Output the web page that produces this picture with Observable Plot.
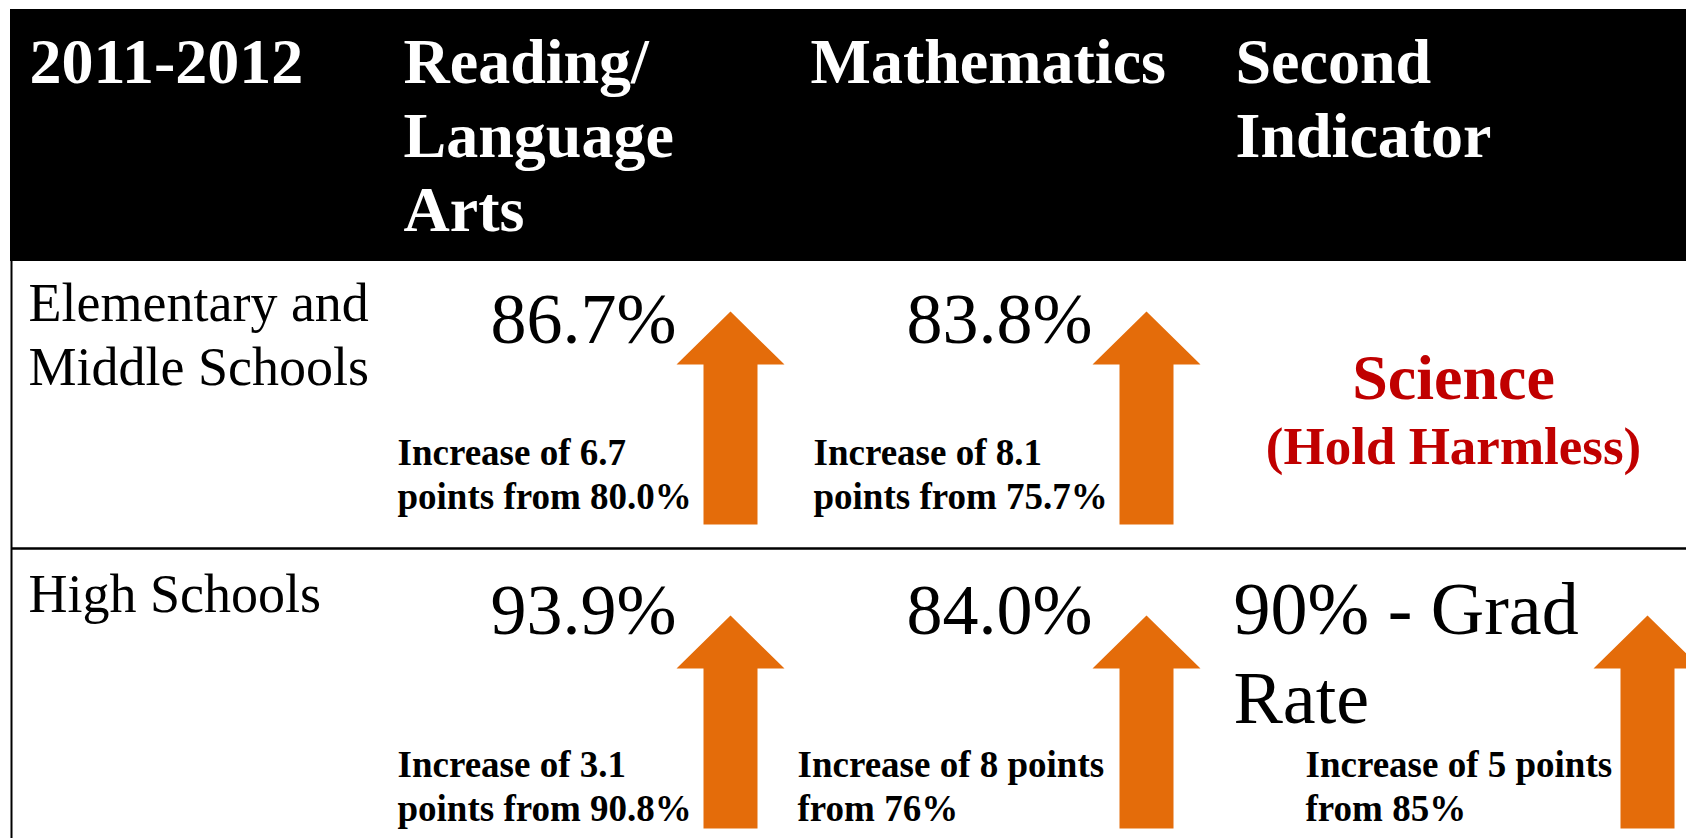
<!DOCTYPE html>
<html><head><meta charset="utf-8">
<script src="https://cdn.jsdelivr.net/npm/d3@7"></script>
<script src="https://cdn.jsdelivr.net/npm/@observablehq/plot@0.6"></script>
<style>html,body{margin:0;padding:0;background:#fff;overflow:hidden}</style>
</head><body><div id="chart"></div>
<script>
// ---- data ----
const yearLabel = "2011-2012";
const subjects = ["Reading/\nLanguage\nArts", "Mathematics", "Second\nIndicator"];
const schoolLevels = ["Elementary and\nMiddle Schools", "High Schools"];
const readingRates = ["86.7%", "93.9%"];
const mathRates = ["83.8%", "84.0%"];
const secondRates = [null, "90% - Grad\nRate"];
const holdHarmless = ["Science", "(Hold Harmless)"];
const readingChange = ["Increase of 6.7\npoints from 80.0%", "Increase of 3.1\npoints from 90.8%"];
const mathChange = ["Increase of 8.1\npoints from 75.7%", "Increase of 8 points\nfrom 76%"];
const secondChange = [null, "Increase of 5 points\nfrom 85%"];

// ---- layout ----
const W = 1686, H = 838;
const L = {
  left: 11, headerTop: 9, headerBottom: 261, rowSep: 548,
  headerX: [29, 403, 810, 1235], headerBase: 82, headerLH: 74, headerFS: 64,
  labelX: 28, labelBase: [320, 611], labelLH: 64, labelFS: 54,
  arrowLeft: [676, 1092, 1593], arrowTip: [311, 615],
  rateBase: [342, 633], rateFS: 72, secondFS: 74, rateLH: 89, secondRateX: 1233,
  changeX: [[397, 397], [813, 797], [null, 1305]], changeBase: [464, 776], changeLH: 44, changeFS: 37,
  scienceX: 1453, scienceBase: [398, 463], scienceFS: [64, 53]
};
const nLines = t => t.split("\n").length;
const lastBase = (t, first, lh) => first + (nLines(t) - 1) * lh;

const headerCells = [yearLabel, ...subjects].map((t, i) => ({text: t, x: L.headerX[i], y: lastBase(t, L.headerBase, L.headerLH)}));
const labelCells = schoolLevels.map((t, r) => ({text: t, x: L.labelX, y: lastBase(t, L.labelBase[r], L.labelLH)}));
const rateCells = [];
[readingRates, mathRates].forEach((arr, c) => arr.forEach((t, r) => rateCells.push({text: t, x: L.arrowLeft[c], y: L.rateBase[r]})));
const secondCells = secondRates.map((t, r) => t && ({text: t, x: L.secondRateX, y: lastBase(t, L.rateBase[r], L.rateLH)})).filter(Boolean);
const changeCells = [];
const arrowCells = [];
[readingChange, mathChange, secondChange].forEach((arr, c) => arr.forEach((t, r) => {
  if (!t) return;
  changeCells.push({text: t, x: L.changeX[c][r], y: lastBase(t, L.changeBase[r], L.changeLH)});
  arrowCells.push({c, r});
}));
const scienceCells = holdHarmless.map((t, i) => ({text: t, x: L.scienceX, y: L.scienceBase[i]}));

function arrowPoly({c, r}) {
  const left = L.arrowLeft[c], tip = L.arrowTip[r], id = c + "-" + r;
  const hw = 108, hh = 53, sl = 27, sr = 81, len = 213;
  return [[left + hw / 2, tip], [left + hw, tip + hh], [left + sr, tip + hh], [left + sr, tip + len],
          [left + sl, tip + len], [left + sl, tip + hh], [left, tip + hh], [left + hw / 2, tip]]
    .map(([x, y]) => ({x, y, id}));
}
const arrowPts = arrowCells.flatMap(arrowPoly);

const font = "'Liberation Serif', 'Times New Roman', serif";
const chart = Plot.plot({
  width: W, height: H, margin: 0,
  x: {domain: [0, W], range: [0, W], axis: null},
  y: {domain: [0, H], range: [0, H], axis: null},
  style: {fontFamily: font, background: "white"},
  marks: [
    Plot.rect([{x1: L.left - 1, x2: W, y1: L.headerTop, y2: L.headerBottom}], {x1: "x1", x2: "x2", y1: "y1", y2: "y2", fill: "black"}),
    Plot.ruleX([L.left], {y1: L.headerBottom - 1, y2: H, stroke: "black", strokeWidth: 2}),
    Plot.ruleY([L.rowSep], {x1: L.left, x2: W, stroke: "black", strokeWidth: 2.5}),
    Plot.line(arrowPts, {x: "x", y: "y", z: "id", fill: "#E46C0A", stroke: "none"}),
    Plot.text(headerCells, {x: "x", y: "y", text: "text", fill: "white", fontWeight: "bold", fontSize: L.headerFS, lineHeight: L.headerLH / L.headerFS, textAnchor: "start", lineAnchor: "bottom", fontFamily: font}),
    Plot.text(labelCells, {x: "x", y: "y", text: "text", fill: "black", fontSize: L.labelFS, lineHeight: L.labelLH / L.labelFS, textAnchor: "start", lineAnchor: "bottom", fontFamily: font}),
    Plot.text(rateCells, {x: "x", y: "y", text: "text", fill: "black", fontSize: L.rateFS, textAnchor: "end", lineAnchor: "bottom", fontFamily: font}),
    Plot.text(secondCells, {x: "x", y: "y", text: "text", fill: "black", fontSize: L.secondFS, lineHeight: L.rateLH / L.secondFS, textAnchor: "start", lineAnchor: "bottom", fontFamily: font}),
    Plot.text(changeCells, {x: "x", y: "y", text: "text", fill: "black", fontWeight: "bold", fontSize: L.changeFS, lineHeight: L.changeLH / L.changeFS, textAnchor: "start", lineAnchor: "bottom", fontFamily: font}),
    Plot.text(scienceCells.slice(0, 1), {x: "x", y: "y", text: "text", fill: "#C00000", fontWeight: "bold", fontSize: L.scienceFS[0], textAnchor: "middle", lineAnchor: "bottom", fontFamily: font}),
    Plot.text(scienceCells.slice(1), {x: "x", y: "y", text: "text", fill: "#C00000", fontWeight: "bold", fontSize: L.scienceFS[1], textAnchor: "middle", lineAnchor: "bottom", fontFamily: font})
  ]
});
document.getElementById("chart").appendChild(chart);
</script>
</body></html>
